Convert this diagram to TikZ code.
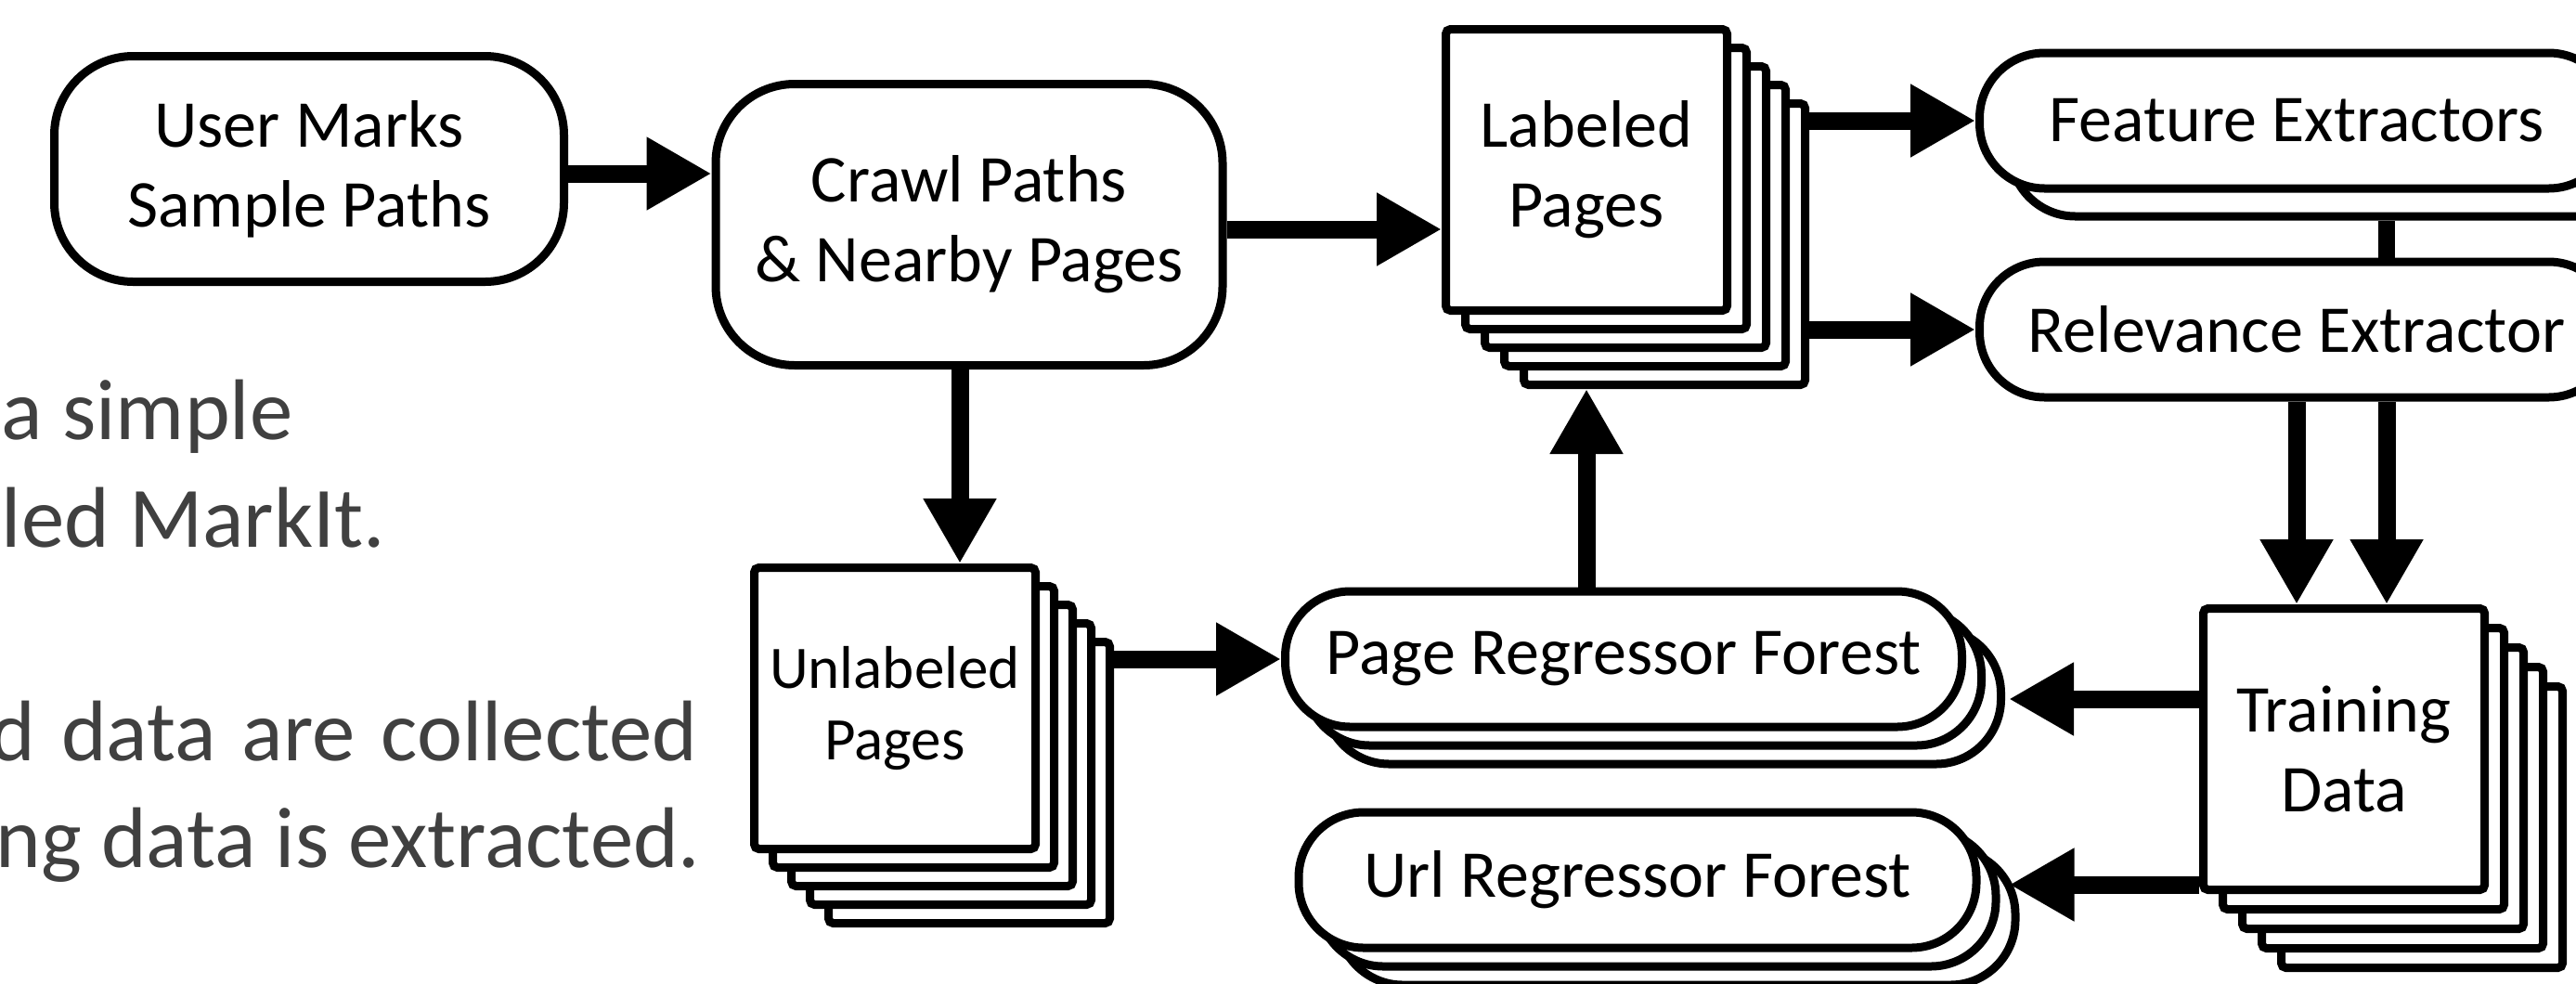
\documentclass[tikz,border=0pt]{standalone}
\usepackage{fontspec}
\setmainfont{Carlito}
\usetikzlibrary{arrows.meta,positioning}
\definecolor{notegray}{RGB}{64,64,64}
\newcommand{\dgmfont}{\fontsize{20.5}{24.5}\selectfont}
\newcommand{\smalldgmfont}{\fontsize{18.5}{22}\selectfont}
\newcommand{\notefont}{\fontsize{26.4}{32}\selectfont}

\begin{document}
\begin{tikzpicture}[
        blob/.style={draw,line width=0.09cm,rounded corners=0.85cm,fill=white,
                     align=center,font=\dgmfont,inner sep=0pt},
        pill/.style={draw,line width=0.09cm,rounded corners=0.7cm,fill=white,
                     minimum height=1.46cm,align=center,font=\dgmfont,inner sep=0pt},
        page/.style={draw,line width=0.09cm,rounded corners=0.05cm,fill=white,
                     minimum width=3.03cm,minimum height=3.03cm,align=center,
                     font=\dgmfont,inner sep=0pt},
        arr/.style={-{Triangle[length=0.7cm,width=0.74cm]},line width=0.19cm},
        link/.style={line width=0.18cm},
        note/.style={font=\notefont,text=notegray,anchor=base east,inner sep=0pt},
      ]
        \useasboundingbox (0,0) rectangle (27.75,-10.59);
        \fill[white] (0,0) rectangle (27.75,-10.59);
        \clip (0,0) rectangle (27.75,-10.59);

        % slide text cut by the crop
        \node[note](n1) at (3.16,-4.73){a simple};
        \node[note](n2) at (4.16,-5.89){led MarkIt.};
        \node[note](n3) at (7.52,-8.19){\makebox[7.62cm][s]{d data are collected}};
        \node[note](n4) at (7.55,-9.34){ng data is extracted.};

        \node[blob,minimum width=5.49cm,minimum height=2.43cm]
          (user) at (3.33,-1.82){User Marks\\Sample Paths};
        \node[blob,minimum width=5.46cm,minimum height=3.03cm]
          (crawl) at (10.44,-2.42){Crawl Paths\\\& Nearby Pages};

        % page stacks
        \foreach \k in {4,3,2,1}{
          \node[page,xshift=\k*0.21cm,yshift=-\k*0.2cm](lab-\k) at (17.09,-1.83){};
          \node[page,xshift=\k*0.2cm,yshift=-\k*0.2cm](unl-\k) at (9.64,-7.63){};
          \node[page,xshift=\k*0.21cm,yshift=-\k*0.21cm](trn-\k) at (25.25,-8.07){};
        }
        \node[page](lab) at (17.09,-1.83){Labeled\\Pages};
        \node[page,font=\smalldgmfont](unl) at (9.64,-7.63){Unlabeled\\Pages};
        \node[page](trn) at (25.25,-8.07){Training\\Data};

        % extractors
        \node[pill,minimum width=6.83cm,xshift=0.33cm,yshift=-0.3cm]
          (feat-1) at (24.74,-1.30){};
        \node[pill,minimum width=6.83cm](feat) at (24.74,-1.30){Feature Extractors};
        \node[pill,minimum width=6.83cm,below=0.7cm of feat](rel){Relevance Extractor};

        % forests
        \foreach \k in {2,1}{
          \node[pill,minimum width=7.29cm,xshift=\k*0.21cm,yshift=-\k*0.2cm]
            (preg-\k) at (17.49,-7.10){};
          \node[pill,minimum width=7.30cm,xshift=\k*0.21cm,yshift=-\k*0.2cm]
            (url-\k) at (17.64,-9.48){};
        }
        \node[pill,minimum width=7.29cm](preg) at (17.49,-7.10){Page Regressor Forest};
        \node[pill,minimum width=7.30cm](url) at (17.64,-9.48){Url Regressor Forest};

        \coordinate (pregin) at ([xshift=0.46cm,yshift=-0.43cm]preg.east);
        \coordinate (urlin) at ([xshift=0.31cm,yshift=-0.05cm]url.east);

        \draw[arr]([yshift=-0.05cm]user.east)--([yshift=-0.05cm]user.east-|crawl.west);
        \draw[arr]([yshift=-0.05cm]crawl.east)--([yshift=-0.05cm]crawl.east-|lab.west);
        \draw[arr]([xshift=-0.1cm]crawl.south)--([xshift=-0.1cm]crawl.south|-unl.north);
        \draw[arr](preg.west-|unl-4.east)--(preg.west);
        \draw[arr](lab.south|-preg.north)--(lab.south|-lab-4.south);
        \draw[arr](feat.west-|lab-4.east)--(feat.west);
        \draw[arr](rel.west-|lab-4.east)--(rel.west);
        \draw[link]([xshift=0.97cm]rel.north)--([xshift=0.97cm]rel.north|-feat-1.south);
        \draw[arr](rel.south)--(rel.south|-trn.north);
        \draw[arr]([xshift=0.97cm]rel.south)--([xshift=0.97cm]rel.south|-trn.north);
        \draw[arr](trn.west|-pregin)--(pregin);
        \draw[arr](trn.west|-urlin)--(urlin);
      \end{tikzpicture}
\end{document}
